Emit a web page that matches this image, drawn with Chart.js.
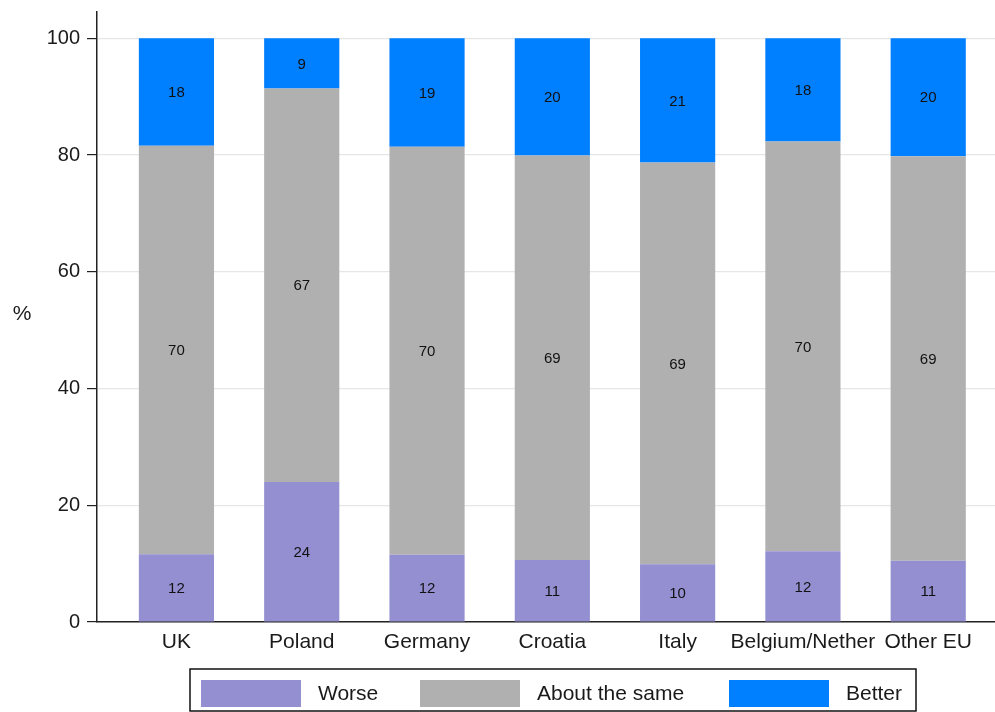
<!DOCTYPE html>
<html>
<head>
<meta charset="utf-8">
<script src="https://cdn.jsdelivr.net/npm/chart.js@4/dist/chart.umd.min.js"></script>
<style>
  html, body { margin: 0; padding: 0; background: #fff; }
  #wrap { width: 995px; height: 712px; position: relative; }
</style>
</head>
<body>
<div id="wrap"><canvas id="barChart"></canvas></div>
<script>
let categories = ["UK", "Poland", "Germany", "Croatia", "Italy", "Belgium/Nether", "Other EU"];
let worse = [11.6, 24.0, 11.5, 10.6, 9.9, 12.1, 10.5];
let aboutSame = [70.0, 67.4, 69.9, 69.3, 68.8, 70.2, 69.3];
let better = [18.4, 8.6, 18.6, 20.1, 21.3, 17.7, 20.2];
let yTicks = [0, 20, 40, 60, 80, 100];
let seriesNames = ["Worse", "About the same", "Better"];
let colors = ["#938fd1", "#b0b0b0", "#007fff"];

const txt = "#1a1a1a";
const fontFam = "Arial, 'Liberation Sans', sans-serif";

function points(arr) {
  return arr.map(function (v, i) { return { x: i, y: v }; });
}

// numbers in the middle of each segment
const valueLabels = {
  id: "valueLabels",
  afterDatasetsDraw(chart) {
    const ctx = chart.ctx;
    ctx.save();
    ctx.font = "15px " + fontFam;
    ctx.fillStyle = "#111";
    ctx.textAlign = "center";
    ctx.textBaseline = "middle";
    chart.data.datasets.forEach(function (ds, d) {
      chart.getDatasetMeta(d).data.forEach(function (bar, i) {
        const p = bar.getProps(["x", "y", "base"], true);
        ctx.fillText(Math.round(ds.data[i].y), p.x, (p.y + p.base) / 2 + 1);
      });
    });
    ctx.restore();
  }
};

// horizontal "%" axis title
const yTitle = {
  id: "yTitle",
  afterDraw(chart) {
    const ctx = chart.ctx;
    ctx.save();
    ctx.font = "21px " + fontFam;
    ctx.fillStyle = txt;
    ctx.textAlign = "center";
    ctx.textBaseline = "middle";
    ctx.fillText("%", 22, 314);
    ctx.restore();
  }
};

// boxed legend under the plot
const boxLegend = {
  id: "boxLegend",
  afterDraw(chart) {
    const ctx = chart.ctx;
    const swatchX = [201, 420, 729];
    ctx.save();
    ctx.strokeStyle = "#111";
    ctx.lineWidth = 1.5;
    ctx.strokeRect(190, 669, 726, 42);
    ctx.font = "21px " + fontFam;
    ctx.fillStyle = txt;
    ctx.textBaseline = "middle";
    chart.data.datasets.forEach(function (ds, d) {
      ctx.fillStyle = ds.backgroundColor;
      ctx.fillRect(swatchX[d], 680, 100, 27);
      ctx.fillStyle = txt;
      ctx.fillText(ds.label, swatchX[d] + 117, 694);
    });
    ctx.restore();
  }
};

const data = {
  datasets: [
    { label: seriesNames[0], data: points(worse), backgroundColor: colors[0] },
    { label: seriesNames[1], data: points(aboutSame), backgroundColor: colors[1] },
    { label: seriesNames[2], data: points(better), backgroundColor: colors[2] }
  ]
};

const config = {
  type: "bar",
  data: data,
  options: {
    responsive: false,
    animation: false,
    devicePixelRatio: 1,
    categoryPercentage: 1,
    barPercentage: 0.6,
    layout: { padding: { left: 0, right: 0, top: 12, bottom: 50 } },
    plugins: {
      legend: { display: false },
      tooltip: { enabled: false }
    },
    scales: {
      x: {
        type: "linear",
        stacked: true,
        offset: false,
        min: -0.634,
        max: 6.533,
        grid: { display: false, offset: false },
        border: { display: true, color: "#222", width: 1.5 },
        ticks: {
          stepSize: 1,
          includeBounds: false,
          autoSkip: false,
          maxRotation: 0,
          padding: 0,
          color: txt,
          font: { size: 21, family: fontFam },
          callback: function (v) { return Number.isInteger(v) ? categories[v] : ""; }
        },
        afterFit: function (scale) { scale.height = 40; }
      },
      y: {
        stacked: true,
        min: 0,
        max: 104.5,
        afterBuildTicks: function (scale) {
          scale.ticks = yTicks.map(function (v) { return { value: v }; });
        },
        grid: { color: "#e6e6e6", lineWidth: 1.2, tickColor: "#222", tickLength: 10 },
        border: { display: true, color: "#222", width: 1.5 },
        ticks: {
          padding: 7,
          color: txt,
          font: { size: 20, family: fontFam }
        },
        afterFit: function (scale) {
          scale.width = 97;
          scale.paddingTop = 0;
        }
      }
    }
  },
  plugins: [valueLabels, yTitle, boxLegend]
};

const canvas = document.getElementById("barChart");
canvas.width = 995;
canvas.height = 712;
new Chart(canvas, config);
</script>
</body>
</html>
